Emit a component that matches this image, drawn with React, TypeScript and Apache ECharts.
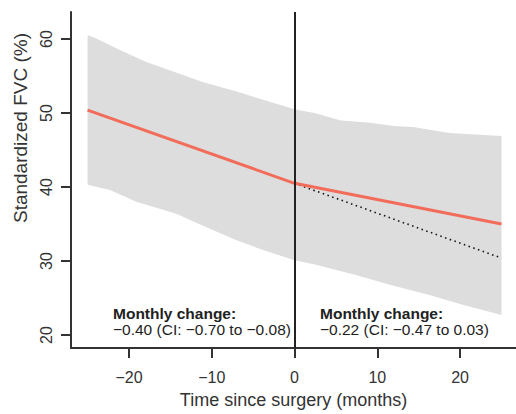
import React, { useEffect, useRef } from "react";
import * as echarts from "echarts";

const xTicks = [-20, -10, 0, 10, 20];
const yTicks = [20, 30, 40, 50, 60];

const bandUpperX = [-25, -24.2, -21.1, -17.9, -11.1, -7.0, 0, 2.4, 3.4, 5.6, 9.1, 12.3, 14.3, 18.7, 25];
const bandUpperY = [60.5, 60.2, 58.5, 56.9, 54.2, 52.9, 50.5, 50.0, 49.7, 49.0, 48.7, 48.2, 48.1, 47.3, 46.9];
const bandLowerX = [-25, -22.3, -19.1, -14.3, -10.3, -7.0, -3.8, 0, 2.6, 7.4, 11.5, 16.3, 20.3, 25];
const bandLowerY = [40.3, 39.6, 38.0, 36.4, 34.4, 32.8, 31.5, 30.1, 29.5, 28.1, 26.8, 25.4, 24.1, 22.7];

const fitX = [-25, 0, 25];
const fitY = [50.4, 40.5, 35.0];

const counterX = [0, 25];
const counterY = [40.5, 30.4];

const preTitle = "Monthly change:";
const preText = "\u22120.40 (CI: \u22120.70 to \u22120.08)";
const postTitle = "Monthly change:";
const postText = "\u22120.22 (CI: \u22120.47 to 0.03)";

const FONT = "'Liberation Sans', Arial, Helvetica, sans-serif";
const TXT = "#333333";

export default function App() {
  const ref = useRef<HTMLDivElement>(null);

  useEffect(() => {
    if (!ref.current) return;
    const chart = echarts.init(ref.current, undefined, { renderer: "svg" });

    const polygon: number[][] = [];
    bandUpperX.forEach((x, i) => polygon.push([x, bandUpperY[i]]));
    for (let i = bandLowerX.length - 1; i >= 0; i--) polygon.push([bandLowerX[i], bandLowerY[i]]);

    chart.setOption({
      animation: false,
      grid: { left: 71, right: 0, top: 12, bottom: 66, containLabel: false },
      xAxis: {
        type: "value",
        min: -27,
        max: 26.75,
        name: "Time since surgery (months)",
        nameLocation: "middle",
        nameGap: 43,
        nameTextStyle: { fontFamily: FONT, fontSize: 18, color: TXT },
        splitLine: { show: false },
        axisLine: { show: true, onZero: false, lineStyle: { color: TXT, width: 2 } },
        axisTick: { show: true, length: 10, customValues: xTicks, lineStyle: { color: TXT, width: 2 } },
        axisLabel: {
          customValues: xTicks,
          margin: 21,
          fontFamily: FONT,
          fontSize: 16,
          color: TXT,
          formatter: (v: number) => (v < 0 ? "\u2212" + Math.abs(v) : String(v)),
        },
      },
      yAxis: {
        type: "value",
        min: 18.25,
        max: 63.65,
        splitLine: { show: false },
        axisLine: { show: true, onZero: false, lineStyle: { color: TXT, width: 2 } },
        axisTick: { show: true, length: 10, customValues: yTicks, lineStyle: { color: TXT, width: 2 } },
        axisLabel: {
          customValues: yTicks,
          rotate: 90,
          margin: 17,
          fontFamily: FONT,
          fontSize: 16,
          color: TXT,
        },
      },
      graphic: [
        {
          type: "text",
          x: 20,
          y: 128,
          rotation: Math.PI / 2,
          style: {
            text: "Standardized FVC (%)",
            font: `19px ${FONT}`,
            fill: TXT,
            align: "center",
            verticalAlign: "middle",
          },
        },
        {
          type: "text",
          x: 113,
          y: 313,
          style: { text: preTitle, font: `bold 15.5px ${FONT}`, fill: "#222", align: "left", verticalAlign: "middle" },
        },
        {
          type: "text",
          x: 113,
          y: 329,
          style: { text: preText, font: `15.5px ${FONT}`, fill: "#222", align: "left", verticalAlign: "middle" },
        },
        {
          type: "text",
          x: 320,
          y: 313,
          style: { text: postTitle, font: `bold 15.5px ${FONT}`, fill: "#222", align: "left", verticalAlign: "middle" },
        },
        {
          type: "text",
          x: 320,
          y: 329,
          style: { text: postText, font: `15.5px ${FONT}`, fill: "#222", align: "left", verticalAlign: "middle" },
        },
      ],
      series: [
        {
          type: "custom",
          name: "band",
          silent: true,
          data: [0],
          renderItem: (params: any, api: any) => {
            const pts = polygon.map((p) => api.coord(p));
            return {
              type: "polygon",
              shape: { points: pts },
              style: { fill: "#dddddd", stroke: "none" },
            };
          },
          z: 1,
        },
        {
          type: "line",
          name: "counterfactual",
          data: counterX.map((x, i) => [x, counterY[i]]),
          showSymbol: false,
          lineStyle: { color: "#111", width: 1.6, type: [1.5, 3.5] },
          z: 3,
        },
        {
          type: "line",
          name: "fit",
          data: fitX.map((x, i) => [x, fitY[i]]),
          showSymbol: false,
          lineStyle: { color: "#f26c5a", width: 3 },
          z: 4,
          markLine: {
            silent: true,
            symbol: ["none", "none"],
            label: { show: false },
            lineStyle: { color: "#222", width: 2, type: "solid" },
            data: [{ xAxis: 0 }],
          },
        },
      ],
    });

    return () => chart.dispose();
  }, []);

  return <div ref={ref} style={{ width: 516, height: 414, position: "absolute", left: 0, top: 0 }} />;
}
